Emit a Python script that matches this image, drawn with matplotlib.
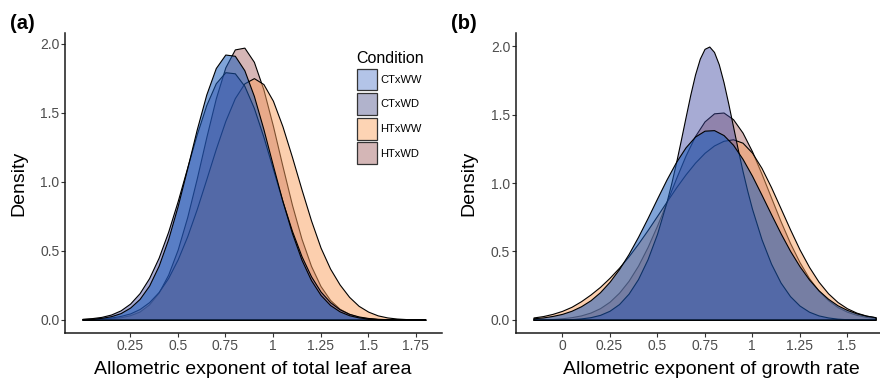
import matplotlib
matplotlib.use("Agg")
import matplotlib.pyplot as plt
from matplotlib.patches import Patch
import numpy as np

plt.rcParams["font.family"] = ["Liberation Sans", "DejaVu Sans"]

conditions = ["CTxWW", "CTxWD", "HTxWW", "HTxWD"]
draw_order = ["HTxWD", "HTxWW", "CTxWD", "CTxWW"]

leaf_x_start, leaf_x_step = 0.0, 0.05
leaf_ctww = [0.004, 0.007, 0.013, 0.025, 0.047, 0.087, 0.150, 0.247, 0.391, 0.584, 0.824, 1.097,
             1.378, 1.631, 1.823, 1.921, 1.912, 1.807, 1.621, 1.381, 1.117, 0.859, 0.627, 0.434,
             0.286, 0.179, 0.106, 0.060, 0.032, 0.016, 0.008, 0.004, 0.002, 0.001, 0.000, 0.000, 0.000]
leaf_ctwd = [0.006, 0.011, 0.020, 0.037, 0.067, 0.116, 0.192, 0.301, 0.449, 0.637, 0.859, 1.102,
             1.343, 1.555, 1.713, 1.793, 1.785, 1.694, 1.534, 1.325, 1.092, 0.858, 0.643, 0.460,
             0.314, 0.204, 0.127, 0.075, 0.042, 0.023, 0.012, 0.006, 0.003, 0.001, 0.001, 0.000, 0.000]
leaf_htww = [0.002, 0.004, 0.008, 0.015, 0.027, 0.045, 0.077, 0.127, 0.200, 0.302, 0.437, 0.604,
             0.801, 1.017, 1.237, 1.440, 1.605, 1.712, 1.750, 1.707, 1.586, 1.401, 1.179, 0.944,
             0.719, 0.522, 0.370, 0.255, 0.165, 0.100, 0.058, 0.031, 0.016, 0.008, 0.004, 0.002, 0.001]
leaf_htwd = [0.002, 0.003, 0.005, 0.009, 0.017, 0.032, 0.059, 0.111, 0.196, 0.326, 0.508, 0.743,
             1.022, 1.321, 1.603, 1.828, 1.958, 1.971, 1.868, 1.668, 1.404, 1.113, 0.832, 0.586,
             0.389, 0.243, 0.143, 0.079, 0.042, 0.020, 0.010, 0.004, 0.002, 0.001, 0.000, 0.000, 0.000]

growth_x_start, growth_x_step = -0.15, 0.05
growth_ctww = [0.010, 0.016, 0.027, 0.042, 0.065, 0.098, 0.142, 0.201, 0.277, 0.370, 0.480, 0.606,
               0.743, 0.886, 1.026, 1.154, 1.261, 1.340, 1.383, 1.387, 1.351, 1.280, 1.177, 1.053,
               0.914, 0.772, 0.633, 0.504, 0.391, 0.294, 0.215, 0.153, 0.105, 0.071, 0.046, 0.029, 0.018]
growth_htww = [0.016, 0.026, 0.042, 0.064, 0.094, 0.135, 0.184, 0.240, 0.306, 0.380, 0.463, 0.556,
               0.655, 0.759, 0.864, 0.967, 1.063, 1.149, 1.221, 1.275, 1.309, 1.320, 1.295, 1.222,
               1.110, 0.970, 0.816, 0.661, 0.514, 0.386, 0.278, 0.193, 0.129, 0.083, 0.051, 0.030, 0.017]
growth_htwd = [0.001, 0.003, 0.005, 0.010, 0.018, 0.031, 0.052, 0.084, 0.131, 0.197, 0.284, 0.395,
               0.531, 0.688, 0.859, 1.034, 1.201, 1.344, 1.451, 1.510, 1.516, 1.467, 1.369, 1.232,
               1.068, 0.894, 0.721, 0.561, 0.421, 0.304, 0.212, 0.143, 0.092, 0.058, 0.035, 0.020, 0.011]
# the narrow CTxWD peak is read more densely around its top
growth_ctwd_x = [-0.15, -0.10, -0.05, 0.00, 0.05, 0.10, 0.15, 0.20, 0.25, 0.30, 0.35, 0.40, 0.45,
                 0.50, 0.55, 0.575, 0.60, 0.625, 0.65, 0.675, 0.70, 0.725, 0.75, 0.775, 0.80, 0.825,
                 0.85, 0.875, 0.90, 0.925, 0.95, 0.975, 1.00, 1.05, 1.10, 1.15, 1.20, 1.25, 1.30,
                 1.35, 1.40, 1.45, 1.50, 1.55, 1.60, 1.65]
growth_ctwd = [0.000, 0.000, 0.001, 0.002, 0.004, 0.009, 0.018, 0.035, 0.065, 0.114, 0.190, 0.297,
               0.442, 0.628, 0.862, 0.999, 1.150, 1.313, 1.481, 1.646, 1.794, 1.910, 1.982, 1.999,
               1.959, 1.869, 1.738, 1.581, 1.414, 1.247, 1.088, 0.943, 0.811, 0.588, 0.410, 0.272,
               0.172, 0.103, 0.058, 0.031, 0.016, 0.007, 0.003, 0.001, 0.001, 0.000]

leaf_ticks = [0.25, 0.5, 0.75, 1, 1.25, 1.5, 1.75]
leaf_tick_labels = ["0.25", "0.5", "0.75", "1", "1.25", "1.5", "1.75"]
growth_ticks = [0, 0.25, 0.5, 0.75, 1, 1.25, 1.5]
growth_tick_labels = ["0", "0.25", "0.5", "0.75", "1", "1.25", "1.5"]
density_ticks = [0, 0.5, 1, 1.5, 2]
density_tick_labels = ["0.0", "0.5", "1.0", "1.5", "2.0"]

fill_colors = {
    "CTxWW": (25 / 255, 90 / 255, 185 / 255, 0.55),
    "CTxWD": (60 / 255, 70 / 255, 160 / 255, 0.45),
    "HTxWW": (250 / 255, 160 / 255, 95 / 255, 0.5),
    "HTxWD": (175 / 255, 110 / 255, 110 / 255, 0.5),
}
legend_colors = {"CTxWW": "#b3c4e8", "CTxWD": "#b1b3cc", "HTxWW": "#fdd4b4", "HTxWD": "#d4b6b6"}


def grid(start, step, n):
    return start + step * np.arange(n)


def draw_panel(ax, curves, ticks, tick_labels, xlim, ylim, xlabel, label_x):
    for cond in draw_order:
        x, y = curves[cond]
        ax.fill_between(x, y, 0, facecolor=fill_colors[cond], edgecolor="black", linewidth=0.8)
    ax.set_xlim(*xlim)
    ax.set_ylim(*ylim)
    ax.set_xticks(ticks)
    ax.set_xticklabels(tick_labels)
    ax.set_yticks(density_ticks)
    ax.set_yticklabels(density_tick_labels)
    for side in ["top", "right"]:
        ax.spines[side].set_visible(False)
    for side in ["left", "bottom"]:
        ax.spines[side].set_linewidth(1.1)
        ax.spines[side].set_color("#1a1a1a")
    ax.tick_params(length=2.7, width=0.8, color="#333333", pad=1.5,
                   labelsize=10, labelcolor="#4d4d4d")
    ax.text(label_x, -0.122, xlabel, transform=ax.transAxes, ha="center", va="center", fontsize=14)
    ax.text(-0.124, 0.5, "Density", transform=ax.transAxes, ha="center", va="center",
            rotation=90, fontsize=14)


fig = plt.figure(figsize=(8.8, 3.8), dpi=100)
ax_a = fig.add_axes([0.0742, 0.1229, 0.4286, 0.791])
ax_b = fig.add_axes([0.5864, 0.1229, 0.4284, 0.791])

lx = grid(leaf_x_start, leaf_x_step, len(leaf_ctww))
gx = grid(growth_x_start, growth_x_step, len(growth_ctww))
leaf = {"CTxWW": (lx, leaf_ctww), "CTxWD": (lx, leaf_ctwd),
        "HTxWW": (lx, leaf_htww), "HTxWD": (lx, leaf_htwd)}
growth = {"CTxWW": (gx, growth_ctww), "CTxWD": (growth_ctwd_x, growth_ctwd),
          "HTxWW": (gx, growth_htww), "HTxWD": (gx, growth_htwd)}

draw_panel(ax_a, leaf, leaf_ticks, leaf_tick_labels, (-0.09, 1.89), (-0.099, 2.079),
           "Allometric exponent of total leaf area", 0.496)
draw_panel(ax_b, growth, growth_ticks, growth_tick_labels, (-0.242, 1.742), (-0.1, 2.1),
           "Allometric exponent of growth rate", 0.517)

handles = [Patch(facecolor=legend_colors[c], edgecolor="#333333", linewidth=0.9) for c in conditions]
ax_a.legend(handles, conditions, title="Condition", loc="upper left", bbox_to_anchor=(0.7725, 0.94),
            frameon=False, fontsize=8, title_fontsize=11.5, handlelength=1.8, handleheight=2.65,
            labelspacing=0.25, handletextpad=0.35, borderaxespad=0, borderpad=0, alignment="left")

fig.text(0.0114, 0.937, "(a)", fontsize=14.5, fontweight="bold", ha="left", va="center")
fig.text(0.513, 0.937, "(b)", fontsize=14.5, fontweight="bold", ha="left", va="center")

fig.savefig("out.png", dpi=100, facecolor="white")
